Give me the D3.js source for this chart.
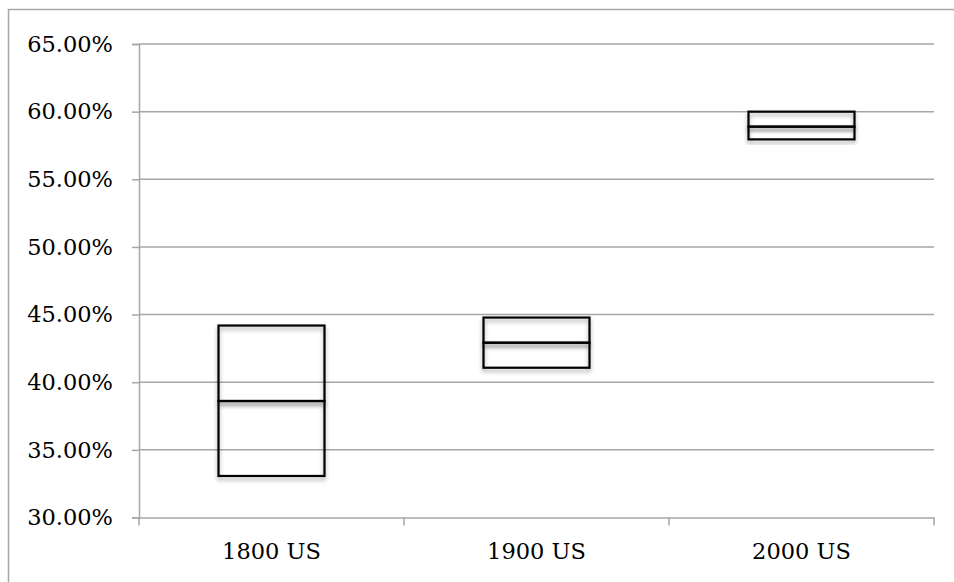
<!DOCTYPE html>
<html><head><meta charset="utf-8">
<script src="https://cdn.jsdelivr.net/npm/d3@7"></script>
<style>
html,body{margin:0;padding:0;background:#fff;}
svg{display:block;}
</style></head>
<body>
<svg id="chart" width="954" height="582"></svg>
<script>
const categories = ["1800 US", "1900 US", "2000 US"];
const lowValues = [0.3307, 0.4107, 0.5795];
const midValues = [0.3861, 0.4292, 0.5889];
const highValues = [0.4419, 0.4478, 0.6000];
const yTicks = [0.30, 0.35, 0.40, 0.45, 0.50, 0.55, 0.60, 0.65];

const svg = d3.select("#chart");
const W = 954, H = 582;
const m = {left: 139, right: 20, top: 44, bottom: 64.5};

const defs = svg.append("defs");
const f = defs.append("filter").attr("id","shadow").attr("x","-20%").attr("y","-20%").attr("width","140%").attr("height","160%");
f.append("feDropShadow").attr("dx",0).attr("dy",3).attr("stdDeviation",2).attr("flood-color","#000").attr("flood-opacity",0.35);

// outer border
svg.append("path").attr("d", `M8.5,${H} V9.5 H${W}`).attr("fill","none").attr("stroke","#a6a6a6").attr("stroke-width",1.5);

const x = d3.scaleBand().domain(categories).range([m.left, W - m.right]).paddingInner(0).paddingOuter(0);
const y = d3.scaleLinear().domain([0.30, 0.65]).range([H - m.bottom, m.top]);

// gridlines
svg.append("g").selectAll("line").data(yTicks.slice(1)).join("line")
  .attr("x1", m.left).attr("x2", W - m.right)
  .attr("y1", d => y(d)).attr("y2", d => y(d))
  .attr("stroke","#a6a6a6").attr("stroke-width",1.5);

// y axis
const yAxis = svg.append("g").attr("transform",`translate(${m.left},0)`)
  .call(d3.axisLeft(y).tickValues(yTicks).tickFormat(d3.format(".2%")).tickSize(7).tickPadding(19));
yAxis.select(".domain").attr("stroke","#a6a6a6").attr("stroke-width",1.5);
yAxis.selectAll(".tick line").attr("stroke","#a6a6a6").attr("stroke-width",1.5);
yAxis.selectAll("text").attr("font-family","DejaVu Serif").attr("font-size","22.5px").attr("fill","#000");

// x axis
const xAxis = svg.append("g").attr("transform",`translate(0,${H - m.bottom})`)
  .call(d3.axisBottom(x).tickSize(0).tickPadding(26));
xAxis.select(".domain").attr("stroke","#a6a6a6").attr("stroke-width",1.5);
xAxis.selectAll("text").attr("font-family","DejaVu Serif").attr("font-size","22.5px").attr("fill","#000");
// boundary ticks
const bounds = categories.map(c => x(c)).concat([x(categories[categories.length-1]) + x.bandwidth()]);
xAxis.append("g").selectAll("line").data(bounds).join("line")
  .attr("x1", d => d).attr("x2", d => d).attr("y1", 0).attr("y2", 8)
  .attr("stroke","#a6a6a6").attr("stroke-width",1.5);

// boxes
const bw = x.bandwidth() * 0.4;
const g = svg.append("g");
categories.forEach((c, i) => {
  const cx = x(c) + x.bandwidth()/2;
  const segs = [[lowValues[i], midValues[i]], [midValues[i], highValues[i]]];
  segs.forEach(([a, b]) => {
    g.append("rect")
      .attr("x", cx - bw/2).attr("width", bw)
      .attr("y", y(b)).attr("height", y(a) - y(b))
      .attr("fill","none").attr("stroke","#000").attr("stroke-width",2.2)
      .attr("filter","url(#shadow)");
  });
});
</script>
</body></html>
